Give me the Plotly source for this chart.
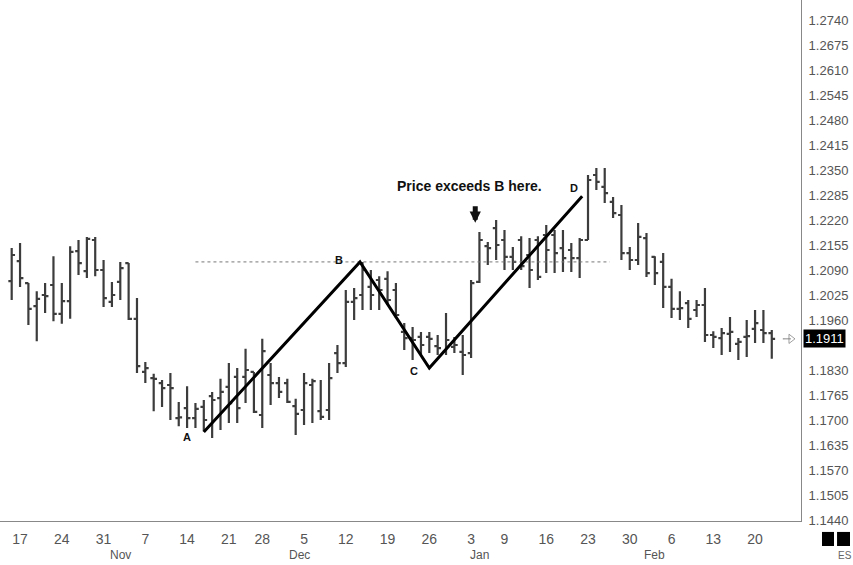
import plotly.graph_objects as go

# ---- data: one bar per trading day (index 0 = Fri Oct 14) ----
bar_index = list(range(92))
open_ = [1.2061, 1.2113, 1.2056, 1.1996, 1.2025, 1.2051, 1.1976, 1.2009, 1.2139, 1.2087,
         1.2168, 1.2090, 1.2007, 1.2059, 1.2108, 1.1963, 1.1825, 1.1809, 1.1796, 1.1791,
         1.1705, 1.1731, 1.1705, 1.1734, 1.1762, 1.1757, 1.1786, 1.1812, 1.1812, 1.1825,
         1.1713, 1.1817, 1.1796, 1.1796, 1.1736, 1.1726, 1.1791, 1.1723, 1.1726, 1.1874,
         1.1848, 1.2007, 1.2025, 1.2046, 1.2064, 1.2067, 1.2038, 1.1929, 1.1913, 1.1916,
         1.1916, 1.1892, 1.1877, 1.1890, 1.1877, 1.1874, 1.2059, 1.2152, 1.2199, 1.2168,
         1.2124, 1.2168, 1.2129, 1.2168, 1.2181, 1.2181, 1.2147, 1.2142, 1.2121, 1.2168,
         1.2337, 1.2306, 1.2267, 1.2233, 1.2134, 1.2116, 1.2173, 1.2124, 1.2111, 1.2046,
         1.1989, 1.2004, 1.1986, 1.1999, 1.1921, 1.1913, 1.1924, 1.1898, 1.1916, 1.1937,
         1.1934, 1.1926]
high = [1.2147, 1.2160, 1.2056, 1.2035, 1.2056, 1.2126, 1.2056, 1.2152, 1.2168, 1.2176,
        1.2176, 1.2116, 1.2059, 1.2111, 1.2108, 1.2017, 1.1851, 1.1820, 1.1804, 1.1822,
        1.1747, 1.1788, 1.1744, 1.1752, 1.1773, 1.1807, 1.1848, 1.1835, 1.1885, 1.1825,
        1.1911, 1.1848, 1.1812, 1.1807, 1.1755, 1.1822, 1.1807, 1.1804, 1.1848, 1.1895,
        1.2038, 1.2043, 1.2111, 1.2090, 1.2074, 1.2087, 1.2056, 1.1952, 1.1942, 1.1929,
        1.1929, 1.1921, 1.1978, 1.1916, 1.1921, 1.2064, 1.2189, 1.2163, 1.2220, 1.2194,
        1.2150, 1.2178, 1.2173, 1.2178, 1.2207, 1.2194, 1.2194, 1.2160, 1.2173, 1.2337,
        1.2355, 1.2355, 1.2280, 1.2259, 1.2150, 1.2212, 1.2186, 1.2126, 1.2134, 1.2067,
        1.2035, 1.2012, 1.2012, 1.2043, 1.1931, 1.1939, 1.1968, 1.1913, 1.1960, 1.1986,
        1.1986, 1.1934]
low = [1.2012, 1.2046, 1.1947, 1.1905, 1.1978, 1.1957, 1.1950, 1.1963, 1.2077, 1.2069,
       1.2074, 1.1994, 1.1994, 1.2012, 1.1960, 1.1822, 1.1796, 1.1723, 1.1734, 1.1700,
       1.1684, 1.1679, 1.1679, 1.1671, 1.1653, 1.1674, 1.1692, 1.1692, 1.1744, 1.1718,
       1.1679, 1.1739, 1.1757, 1.1744, 1.1661, 1.1687, 1.1692, 1.1700, 1.1700, 1.1822,
       1.1838, 1.1960, 1.1986, 1.1986, 1.1986, 1.1999, 1.1965, 1.1882, 1.1856, 1.1869,
       1.1874, 1.1869, 1.1869, 1.1874, 1.1817, 1.1861, 1.2056, 1.2103, 1.2116, 1.2090,
       1.2090, 1.2090, 1.2043, 1.2064, 1.2082, 1.2082, 1.2085, 1.2085, 1.2069, 1.2168,
       1.2298, 1.2264, 1.2225, 1.2116, 1.2090, 1.2103, 1.2072, 1.2051, 1.1991, 1.1965,
       1.1960, 1.1939, 1.1968, 1.1903, 1.1887, 1.1869, 1.1877, 1.1856, 1.1864, 1.1900,
       1.1900, 1.1859]
close = [1.2129, 1.2069, 1.1989, 1.2015, 1.2022, 1.1976, 1.2009, 1.2137, 1.2108, 1.2171,
         1.2090, 1.2017, 1.2025, 1.2095, 1.1963, 1.1840, 1.1835, 1.1807, 1.1783, 1.1783,
         1.1707, 1.1705, 1.1729, 1.1700, 1.1752, 1.1773, 1.1744, 1.1731, 1.1830, 1.1721,
         1.1879, 1.1796, 1.1773, 1.1747, 1.1716, 1.1796, 1.1801, 1.1708, 1.1809, 1.1848,
         1.2007, 1.2017, 1.2090, 1.2025, 1.2038, 1.2012, 1.1973, 1.1913, 1.1908, 1.1895,
         1.1911, 1.1887, 1.1908, 1.1895, 1.1869, 1.2056, 1.2168, 1.2147, 1.2155, 1.2124,
         1.2111, 1.2100, 1.2090, 1.2072, 1.2142, 1.2134, 1.2121, 1.2121, 1.2168, 1.2324,
         1.2319, 1.2290, 1.2238, 1.2134, 1.2116, 1.2176, 1.2082, 1.2082, 1.2046, 1.1989,
         1.1991, 1.1963, 1.1999, 1.1921, 1.1916, 1.1926, 1.1929, 1.1903, 1.1918, 1.1952,
         1.1926, 1.1911]

# x-axis labels (Mondays) and month names
day_tick_index = [1, 6, 11, 16, 21, 26, 30, 35, 40, 45, 50, 55, 59, 64, 69, 74, 79, 84, 89]
day_tick_text = ["17", "24", "31", "7", "14", "21", "28", "5", "12", "19", "26",
                 "3", "9", "16", "23", "30", "6", "13", "20"]
month_index = [13.0, 34.5, 56.0, 77.0]
month_text = ["Nov", "Dec", "Jan", "Feb"]

# y-axis tick values
y_ticks = [round(1.1440 + 0.0065 * i, 4) for i in range(21)]
y_ticks_shown = [v for v in y_ticks if abs(v - 1.1895) > 1e-6]

# ABCD pattern pivots (bar index, price)
pattern_x = [23.0, 41.7, 50.0, 68.3]
pattern_y = [1.1669, 1.2111, 1.1835, 1.2282]
pattern_labels = ["A", "B", "C", "D"]
b_level = 1.2111
b_line_x = [22.0, 71.6]
last_price = close[-1]

fig = go.Figure()

fig.add_trace(go.Ohlc(
    x=bar_index, open=open_, high=high, low=low, close=close,
    increasing=dict(line=dict(color="#3c3c3c", width=2.2)),
    decreasing=dict(line=dict(color="#3c3c3c", width=2.2)),
    tickwidth=0.4, showlegend=False, hoverinfo="skip",
))

# dotted B level
fig.add_trace(go.Scatter(
    x=b_line_x, y=[b_level, b_level], mode="lines",
    line=dict(color="#777777", width=1, dash="3px,3px"),
    showlegend=False, hoverinfo="skip",
))

# ABCD line
fig.add_trace(go.Scatter(
    x=pattern_x, y=pattern_y, mode="lines",
    line=dict(color="#000000", width=3),
    showlegend=False, hoverinfo="skip",
))

# last price marker on the right
fig.add_trace(go.Scatter(
    x=[92.4, 93.3], y=[last_price, last_price], mode="lines+markers",
    line=dict(color="#888888", width=1),
    marker=dict(symbol=["line-ew", "triangle-right-open"], size=[1, 8],
                color="#777777", line=dict(color="#777777", width=1)),
    showlegend=False, hoverinfo="skip", cliponaxis=False,
))

annotations = []
label_offsets = {"A": (-2.0, -0.0013), "B": (-2.5, 0.0004), "C": (-1.8, -0.0007), "D": (-1.0, 0.0021)}
for lx, ly, lt in zip(pattern_x, pattern_y, pattern_labels):
    dx, dy = label_offsets[lt]
    annotations.append(dict(
        x=lx + dx, y=ly + dy, xref="x", yref="y", text="<b>%s</b>" % lt,
        showarrow=False, font=dict(family="Liberation Sans, Arial", size=11, color="#111111"),
    ))

annotations.append(dict(
    x=54.8, y=1.2308, xref="x", yref="y", text="<b>Price exceeds B here.</b>",
    showarrow=False, font=dict(family="Liberation Sans, Arial", size=14, color="#111111"),
))
annotations.append(dict(
    x=55.5, y=1.2213, xref="x", yref="y", ax=0, ay=-18, text="",
    showarrow=True, arrowhead=2, arrowsize=0.45, arrowwidth=5, arrowcolor="#111111",
))

for mi, mt in zip(month_index, month_text):
    annotations.append(dict(
        x=mi, y=-0.0655, xref="x", yref="paper", yanchor="middle", text=mt,
        showarrow=False, font=dict(family="Liberation Sans Narrow, Liberation Sans, Arial", size=12, color="#555555"),
    ))

annotations.append(dict(
    x=1.0025, y=last_price, xref="paper", yref="y", xanchor="left", text="1.1911",
    showarrow=False, bgcolor="#000000", borderpad=1,
    font=dict(family="Liberation Sans, Arial", size=13, color="#ffffff"),
))
annotations.append(dict(
    x=1.055, y=-0.0655, xref="paper", yref="paper", xanchor="center", yanchor="middle", text="ES",
    showarrow=False, font=dict(family="Liberation Sans Narrow, Liberation Sans, Arial", size=10, color="#666666"),
))

shapes = [
    dict(type="rect", xref="paper", yref="paper", x0=1.0262, x1=1.0412, y0=-0.048, y1=-0.021,
         fillcolor="#000000", line=dict(width=0)),
    dict(type="rect", xref="paper", yref="paper", x0=1.0450, x1=1.0612, y0=-0.048, y1=-0.021,
         fillcolor="#000000", line=dict(width=0)),
]

fig.update_layout(
    width=853, height=565,
    margin=dict(l=0, r=52, t=0, b=44),
    paper_bgcolor="#ffffff", plot_bgcolor="#ffffff",
    annotations=annotations, shapes=shapes,
    xaxis=dict(
        range=[-1.4, 94.5], rangeslider=dict(visible=False),
        tickmode="array", tickvals=day_tick_index, ticktext=day_tick_text,
        showgrid=False, zeroline=False, showline=True, linecolor="#888888", linewidth=1,
        ticks="", ticklabelstandoff=5,
        tickfont=dict(family="Liberation Sans Narrow, Liberation Sans, Arial", size=14, color="#555555"),
    ),
    yaxis=dict(
        range=[1.14374, 1.2792], side="right",
        tickmode="array", tickvals=y_ticks_shown, ticktext=["%.4f" % v for v in y_ticks_shown],
        showgrid=False, zeroline=False, showline=True, linecolor="#888888", linewidth=1,
        ticks="", ticklabelstandoff=4,
        tickfont=dict(family="Liberation Sans, Arial", size=13, color="#555555"),
    ),
)

fig.write_html(
    "out.html",
    config={"displayModeBar": False},
    post_script="document.body.style.margin='0';document.body.style.overflow='hidden';",
)
